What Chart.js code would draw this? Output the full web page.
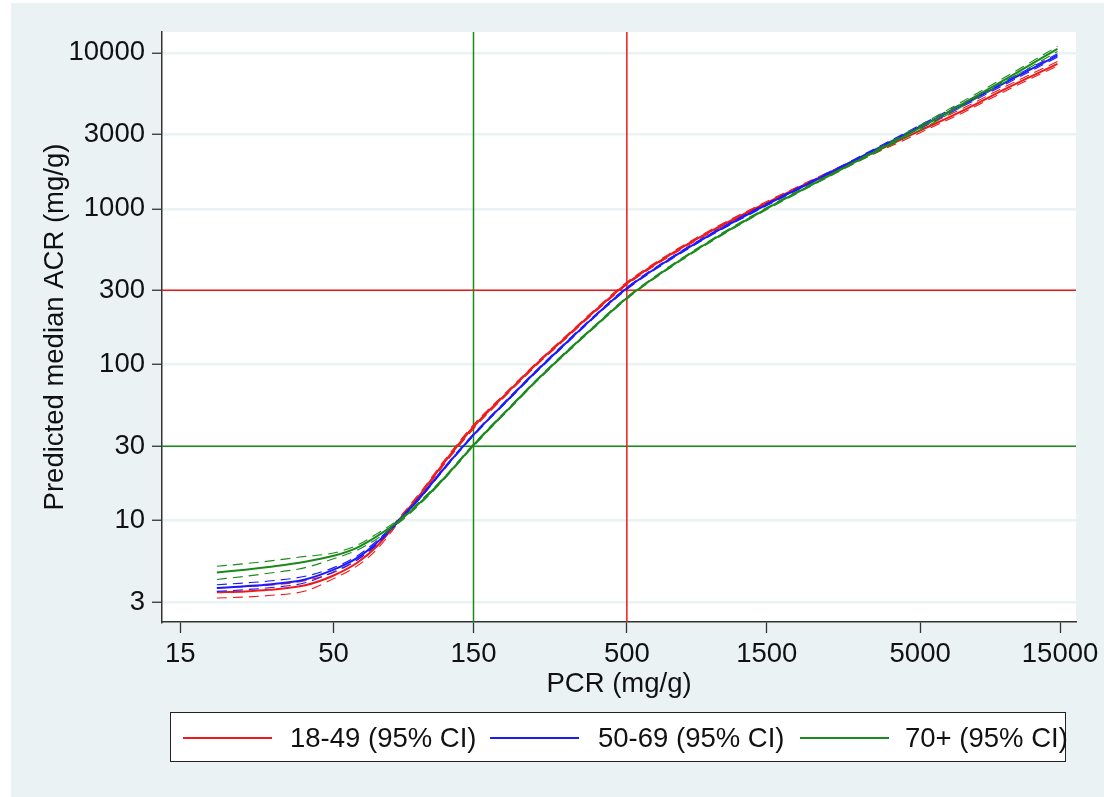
<!DOCTYPE html>
<html>
<head>
<meta charset="utf-8">
<script src="https://cdn.jsdelivr.net/npm/chart.js@4.4.1/dist/chart.umd.min.js"></script>
<style>
  html, body { margin: 0; padding: 0; background: #fff; }
  #frame { position: absolute; left: 11px; top: 3px; width: 1093px; height: 794px; background: #eaf2f3; }
  #wrap { position: absolute; left: 0; top: 0; width: 1104px; height: 797px; }
  #legend { position: absolute; left: 170px; top: 712px; width: 894px; height: 48px; background: #fff;
            border: 1px solid #222; font-family: "Liberation Sans", Arial, sans-serif; font-size: 27.5px; color: #111; }
  #legend .ln { position: absolute; top: 24px; width: 89px; height: 1.6px; }
  #legend .lt { position: absolute; top: 10px; white-space: nowrap; line-height: 30px; }
</style>
</head>
<body>
<div id="frame"></div>
<div id="wrap"><canvas id="acr" width="1104" height="797"></canvas></div>
<div id="legend">
  <span class="ln" style="left:12px;background:#f01818"></span><span class="lt" style="left:119px">18-49 (95% CI)</span>
  <span class="ln" style="left:319px;background:#1a1aff"></span><span class="lt" style="left:427px">50-69 (95% CI)</span>
  <span class="ln" style="left:629px;background:#1b8a1b"></span><span class="lt" style="left:734px">70+ (95% CI)</span>
</div>
<script>
const pcr = [20, 25, 30, 40, 50, 60, 70, 85, 100, 120, 150, 200, 250, 300, 400, 500, 700, 1000, 1500, 2000, 3000, 5000, 7000, 10000, 14700];

// 18-49
const redMid = [3.47, 3.52, 3.6, 3.85, 4.45, 5.35, 6.8, 10.5, 15.2, 24, 40, 69, 104, 142, 232, 332, 506, 743, 1092, 1415, 2022, 3170, 4263, 6000, 8500];
const redLo  = [3.19, 3.24, 3.31, 3.54, 4.25, 5.11, 6.5, 10.2, 14.74, 23.3, 38.8, 67.6, 101.9, 139.2, 227.4, 325.4, 496, 728, 1070, 1387, 1982, 3075, 4135, 5820, 8245];
const redHi  = [3.71, 3.77, 3.85, 4.12, 4.65, 5.59, 7.1, 10.8, 15.66, 24.7, 41.2, 70.4, 106.1, 144.8, 236.6, 338.6, 516, 758, 1114, 1443, 2062, 3281, 4412, 6210, 8800];

// 50-69
const blueMid = [3.7, 3.8, 3.9, 4.2, 4.85, 5.75, 7.2, 10.4, 14.5, 22, 35.5, 61.7, 93.8, 130, 215, 309, 475, 709, 1064, 1399, 2057, 3357, 4656, 6600, 9630];
const blueLo  = [3.52, 3.61, 3.71, 4.0, 4.7, 5.58, 7.0, 10.25, 14.28, 21.67, 35, 60.8, 92.4, 128, 211.8, 304.4, 468, 698, 1048, 1378, 2026, 3273, 4540, 6435, 9390];
const blueHi  = [3.88, 3.99, 4.1, 4.4, 5.0, 5.92, 7.4, 10.55, 14.72, 22.33, 36, 62.6, 95.2, 132, 218.2, 313.6, 482, 720, 1080, 1420, 2088, 3441, 4772, 6765, 9870];

// 70+
const greenMid = [4.65, 4.85, 5.05, 5.45, 5.95, 6.7, 7.9, 10.2, 13.4, 19, 30.5, 53.3, 81.5, 113, 185, 268, 422, 647, 1003, 1337, 1990, 3318, 4725, 6940, 10600];
const greenLo  = [4.2, 4.4, 4.6, 5.0, 5.7, 6.45, 7.6, 9.95, 13.1, 18.7, 30, 52.5, 80.3, 111.3, 182.2, 264, 416, 637, 988, 1317, 1960, 3200, 4560, 6700, 10200];
const greenHi  = [5.1, 5.3, 5.5, 5.9, 6.2, 6.95, 8.2, 10.45, 13.7, 19.3, 31, 54.1, 82.7, 114.7, 187.8, 272, 428, 657, 1018, 1357, 2020, 3436, 4890, 7180, 11000];

// axes
const xTicks = [15, 50, 150, 500, 1500, 5000, 15000];
const yTicks = [3, 10, 30, 100, 300, 1000, 3000, 10000];
const xMin = 13, xMax = 17000;
const yMin = 2.24, yMax = 13600;

// cut-off lines
const pcrCuts = [150, 500];
const acrCuts = [30, 300];

const RED = '#f01818', BLUE = '#1a1aff', GREEN = '#1b8a1b';
const FONT = '"Liberation Sans", Arial, sans-serif';
const TXT = 27.5;

function pts(ys) {
    return pcr.map((x, i) => ({ x: x, y: ys[i] }));
}

function curve(ys, color, dashed, order) {
    return {
        data: pts(ys),
        borderColor: color,
        borderWidth: dashed ? 1.1 : 2,
        borderDash: dashed ? [10, 6] : [],
        pointRadius: 0,
        cubicInterpolationMode: 'monotone',
        order: order
    };
}

function vline(x, color) {
    return { data: [{ x: x, y: yMin }, { x: x, y: yMax }], borderColor: color, borderWidth: 1.5, pointRadius: 0, order: 10 };
}
function hline(y, color) {
    return { data: [{ x: xMin, y: y }, { x: xMax, y: y }], borderColor: color, borderWidth: 1.5, pointRadius: 0, order: 10 };
}

const plotBg = {
    id: 'plotBg',
    beforeDraw(chart) {
        const a = chart.chartArea, ctx = chart.ctx;
        ctx.save();
        ctx.fillStyle = '#fff';
        ctx.fillRect(a.left, a.top, a.right - a.left, a.bottom - a.top);
        ctx.restore();
    }
};

new Chart(document.getElementById('acr'), {
    type: 'line',
    data: {
        datasets: [
            curve(greenMid, GREEN, false, 1), curve(greenLo, GREEN, true, 1), curve(greenHi, GREEN, true, 1),
            curve(blueMid, BLUE, false, 2), curve(blueLo, BLUE, true, 2), curve(blueHi, BLUE, true, 2),
            curve(redMid, RED, false, 3), curve(redLo, RED, true, 3), curve(redHi, RED, true, 3),
            vline(pcrCuts[0], GREEN), vline(pcrCuts[1], RED),
            hline(acrCuts[0], GREEN), hline(acrCuts[1], RED)
        ]
    },
    options: {
        responsive: false,
        animation: false,
        devicePixelRatio: 1,
        layout: { padding: { left: 0, top: 32, right: 28, bottom: 0 } },
        plugins: { legend: { display: false }, tooltip: { enabled: false } },
        scales: {
            x: {
                type: 'logarithmic',
                min: xMin, max: xMax,
                bounds: 'data',
                afterFit: s => { s.height = 175; },
                afterBuildTicks: s => { s.ticks = xTicks.map(v => ({ value: v })); },
                ticks: { autoSkip: false, maxRotation: 0, padding: 5, color: '#111',
                         font: { family: FONT, size: TXT }, callback: v => String(v) },
                grid: { drawOnChartArea: false, drawTicks: true, tickLength: 11, tickColor: '#333', tickWidth: 1.3 },
                border: { color: '#333', width: 1.5 },
                title: { display: true, text: 'PCR (mg/g)', color: '#111',
                         font: { family: FONT, size: TXT }, padding: { top: 0, bottom: 96 } }
            },
            y: {
                type: 'logarithmic',
                min: yMin, max: yMax,
                bounds: 'data',
                afterFit: s => { s.width = 162; },
                afterBuildTicks: s => { s.ticks = yTicks.map(v => ({ value: v })); },
                ticks: { autoSkip: false, padding: 7, color: '#111',
                         font: { family: FONT, size: TXT }, callback: v => String(v) },
                grid: { color: '#eaf2f3', lineWidth: 2.5, drawTicks: true, tickLength: 10, tickColor: '#333', tickWidth: 1.3 },
                border: { color: '#333', width: 1.5 },
                title: { display: true, text: 'Predicted median ACR (mg/g)', color: '#111',
                         font: { family: FONT, size: TXT }, padding: { top: 39, bottom: 0 } }
            }
        }
    },
    plugins: [plotBg]
});
</script>
</body>
</html>
